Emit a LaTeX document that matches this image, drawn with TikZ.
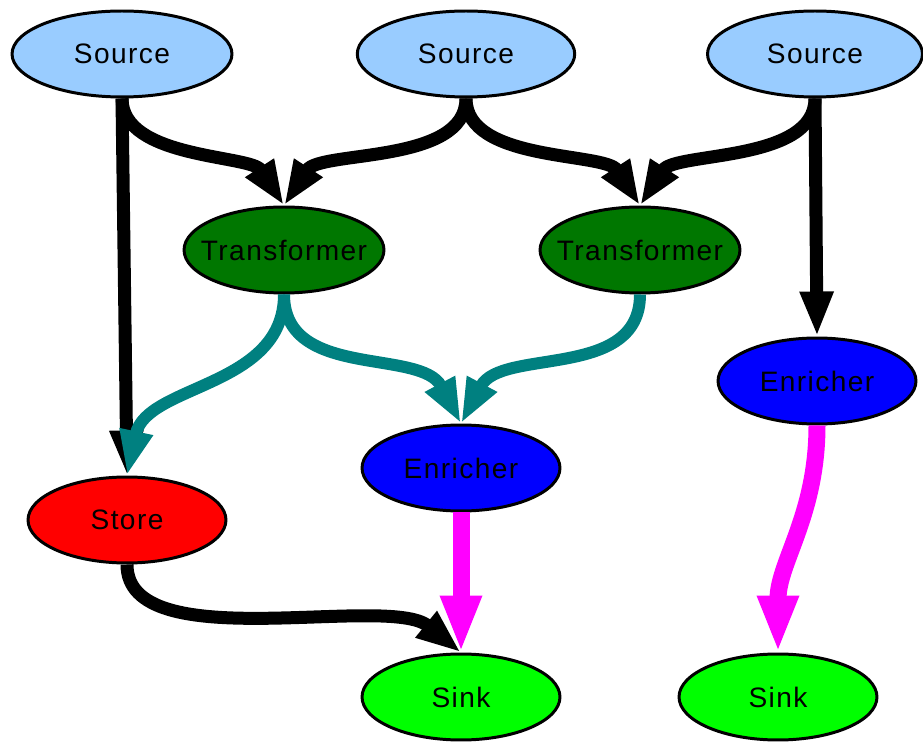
\documentclass[tikz,border=0pt]{standalone}
\usepackage{fontspec}
\setmainfont{Liberation Sans}[LetterSpace=5]
\usepackage{tikz}
\usetikzlibrary{arrows.meta,shapes.geometric}

\definecolor{srcblue}{HTML}{99CCFF}
\definecolor{trgreen}{HTML}{007700}
\definecolor{tealflow}{HTML}{008080}
\definecolor{magflow}{HTML}{FF00FF}

\begin{document}
\begin{tikzpicture}[x=0.02cm, y=0.02cm,
  proc/.style={draw, ellipse, line width=1.7pt, minimum width=3.96cm, minimum height=1.72cm, inner sep=0pt,
    font=\fontsize{16}{19}\selectfont,
    execute at begin node={\hbox to 0pt\bgroup\hss}, execute at end node={\hss\egroup}},
  flow/.style={line width=0.26cm, -{Triangle[length=0.9cm, width=0.62cm]}},
  tflow/.style={flow, color=tealflow, line width=0.24cm},
  mflow/.style={line width=0.34cm, color=magflow, -{Triangle[length=1.14cm, width=0.76cm]}}
]
\useasboundingbox (0,0) rectangle (923,744);

\node[proc, fill=srcblue, minimum width=4.4cm] (src1) at (122, 690) {Source};
\node[proc, fill=srcblue, minimum width=4.35cm] (src2) at (466, 690) {Source};
\node[proc, fill=srcblue, minimum width=4.3cm] (src3) at (815, 690) {Source};
\node[proc, fill=trgreen, minimum width=4.0cm] (tr1) at (284, 494) {Transformer};
\node[proc, fill=trgreen, minimum width=4.0cm] (tr2) at (640, 494) {Transformer};
\node[proc, fill=blue] (enr2) at (817, 363) {Enricher};
\node[proc, fill=blue] (enr1) at (461, 276) {Enricher};
\node[proc, fill=red] (store) at (127, 224) {Store};
\node[proc, fill=green] (sink1) at (461, 47) {Sink};
\node[proc, fill=green] (sink2) at (778, 47) {Sink};

\draw[flow] (src1.south) to[out=-90, in=123, looseness=0.8] (tr1.north);
\draw[flow] (src1.south) -- (store.north);
\draw[flow] (src2.south) to[out=-90, in=57, looseness=0.8] (tr1.north);
\draw[flow] (src2.south) to[out=-90, in=123, looseness=0.8] (tr2.north);
\draw[flow] (src3.south) to[out=-90, in=57, looseness=0.8] (tr2.north);
\draw[flow] (src3.south) -- (enr2.north);

\draw[tflow] (tr1.south) to[out=-90, in=78] (store.north);
\draw[tflow] (tr1.south) to[out=-90, in=118] (enr1.north);
\draw[tflow] (tr2.south) to[out=-90, in=62] (enr1.north);

\draw[flow] (store.south) to[out=-90, in=141, looseness=0.7] (sink1.north);
\draw[mflow] (enr1.south) -- (sink1.north);
\draw[mflow] (enr2.south) to[out=-90, in=90] (sink2.north);
\end{tikzpicture}
\end{document}
